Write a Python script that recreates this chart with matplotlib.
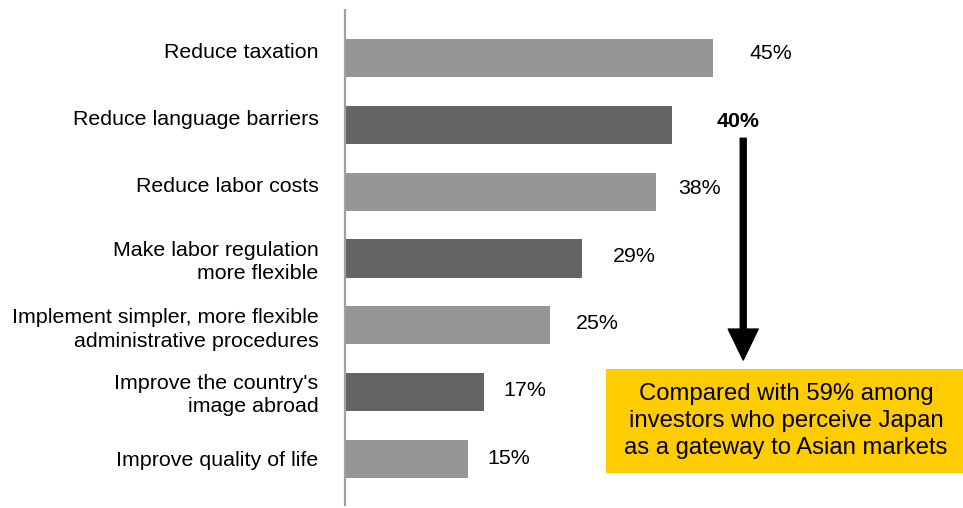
import matplotlib
matplotlib.use("Agg")
import matplotlib.pyplot as plt
from matplotlib.patches import Rectangle

plt.rcParams['font.family'] = ['Liberation Sans', 'DejaVu Sans']

categories = [
    "Reduce taxation",
    "Reduce language barriers",
    "Reduce labor costs",
    "Make labor regulation\nmore flexible",
    "Implement simpler, more flexible\nadministrative procedures",
    "Improve the country's\nimage abroad",
    "Improve quality of life",
]
values = [45, 40, 38, 29, 25, 17, 15]
value_labels = ["45%", "40%", "38%", "29%", "25%", "17%", "15%"]
highlight_index = 1
note_text = "Compared with 59% among\ninvestors who perceive Japan\nas a gateway to Asian markets"

light = "#969696"
dark = "#646464"
bar_colors = [light if i % 2 == 0 else dark for i in range(len(values))]
# horizontal gap (points) between bar end and its value label
label_offsets = [26, 32, 16, 22, 19, 14, 14]
# vertical nudge (points) of each value label
value_nudge = [3.0, 2.5, 2.0, 1.5, 1.5, 1.0, 0.5]
# vertical nudge (points) of each category label
cat_nudge = [5.8, 5.0, 5.0, 0.7, 0.0, 0.7, 0.0]

W, H = 963, 508
fig = plt.figure(figsize=(W / 100, H / 100), dpi=100)
ax = fig.add_axes([345 / W, (H - 505) / H, (W - 345) / W, (505 - 10) / H])

y = list(range(len(values)))
ax.barh(y, values, height=0.57, color=bar_colors)
ax.set_xlim(0, 75.5)
ax.set_ylim(6.69, -0.72)

for s in ("top", "right", "bottom"):
    ax.spines[s].set_visible(False)
ax.spines["left"].set_color("#a0a0a0")
ax.spines["left"].set_linewidth(1.6)
ax.set_xticks([])
ax.set_yticks([])

for i, cat in enumerate(categories):
    ax.annotate(cat, xy=(0, i), xytext=(-19, cat_nudge[i]),
                textcoords="offset points", ha="right",
                va="center_baseline", multialignment="right",
                fontsize=15.4, linespacing=1.28, color="black",
                annotation_clip=False)

for i, (v, lab) in enumerate(zip(values, value_labels)):
    bold = i == highlight_index
    ax.annotate(lab, xy=(v, i), xytext=(label_offsets[i], value_nudge[i]),
                textcoords="offset points", va="center", ha="left",
                fontsize=15.4, fontweight="bold" if bold else "normal",
                color="black")

# arrow from the highlighted value down to the note
ax.annotate("", xy=(48.65, 4.52), xytext=(48.65, 1.2),
            arrowprops=dict(facecolor="black", edgecolor="black",
                            width=4.3, headwidth=21.6, headlength=22.3,
                            shrink=0))

# note box
fig.patches.append(Rectangle((606 / W, (H - 473) / H), (W - 606) / W,
                             (473 - 369) / H, transform=fig.transFigure,
                             facecolor="#FFCC00", edgecolor="none"))
fig.text(786 / W, (H - 421) / H, note_text, ha="center", va="center",
         fontsize=17.2, linespacing=1.3, color="black")

fig.savefig("out.png", dpi=100)
